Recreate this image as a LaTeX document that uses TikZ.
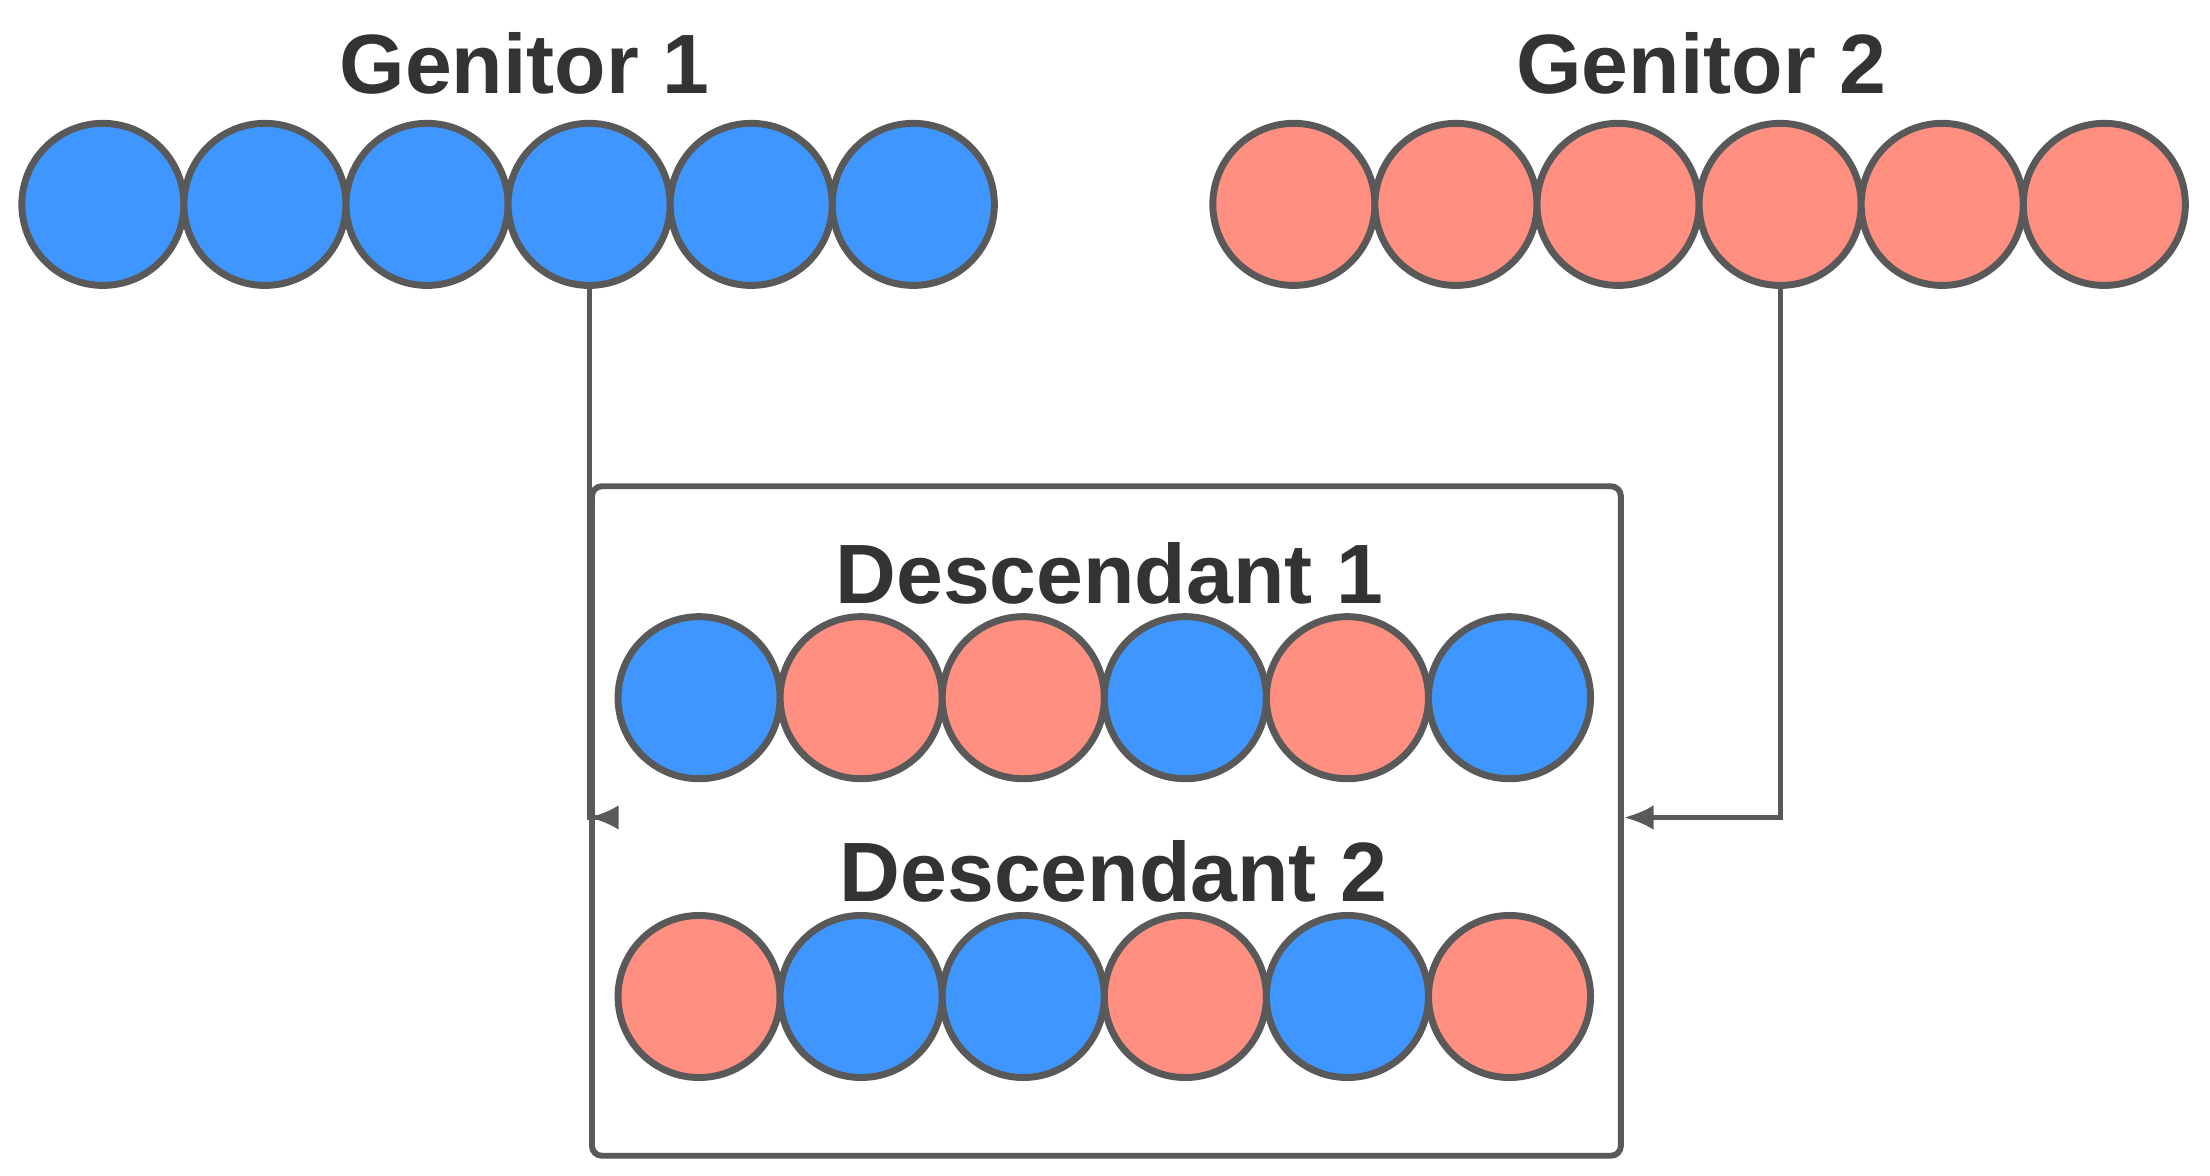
\documentclass[tikz,border=0pt]{standalone}
\usepackage{fontspec}
\setmainfont{Liberation Sans}
\usetikzlibrary{positioning,arrows.meta}
\definecolor{geneblue}{HTML}{4096FF}
\definecolor{genered}{HTML}{FF8F80}
\definecolor{linegray}{HTML}{595959}
\tikzset{
  gene/.style={circle,draw=linegray,line width=1.4pt,minimum size=1.15cm,inner sep=0pt},
  b/.style={gene,fill=geneblue},
  r/.style={gene,fill=genered},
  title/.style={font=\bfseries\fontsize{17}{20}\selectfont,text=black!80},
  link/.style={draw=linegray,line width=1pt,-{Latex[length=6pt,width=5pt]}}
}
\begin{document}
\begin{tikzpicture}
    \useasboundingbox (0,0) rectangle (15.68,-8.34);
    
    %Genitors
    \node[title] (t1) at (3.72,-0.45) {Genitor 1};
    \node[title] (t2) at (12.07,-0.45) {Genitor 2};
    \foreach \i in {1,...,6} {
        \node[b] (g1\i) at ({0.73+1.15*(\i-1)},-1.45) {};
        \node[r] (g2\i) at ({9.18+1.15*(\i-1)},-1.45) {};
    }
    
    %Offspring box
    \node[draw=linegray,line width=1.2pt,rounded corners=2pt,minimum width=7.3cm,minimum height=4.75cm] (box) at (7.85,-5.825) {};
    \node[title] (d1) at (7.87,-4.07) {Descendant 1};
    \node[title] (d2) at (7.90,-6.18) {Descendant 2};
    \foreach \c [count=\i] in {b,r,r,b,r,b} {
        \node[\c] (a\i) at ({4.96+1.15*(\i-1)},-4.95) {};
    }
    \foreach \c [count=\i] in {r,b,b,r,b,r} {
        \node[\c] (e\i) at ({4.96+1.15*(\i-1)},-7.07) {};
    }
    
    %Arrows
    \coordinate (in1) at (box.west |- 0,-5.8);
    \coordinate (in2) at (box.east |- 0,-5.8);
    \draw[link] (g14.south) |- (in1);
    \draw[link] (g24.south) |- (in2);
\end{tikzpicture}
\end{document}
